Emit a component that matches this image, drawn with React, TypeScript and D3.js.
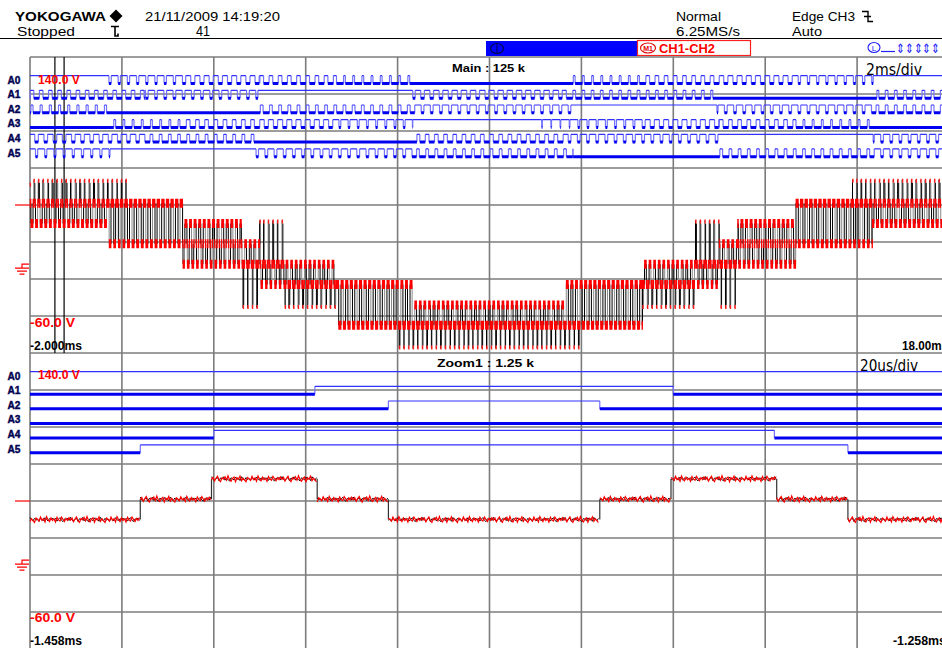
import React, { useMemo } from 'react';
import * as d3 from 'd3';

// ---------------- acquisition settings ----------------
const mainSpanMs: [number, number] = [-2, 18];
const zoomSpanMs: [number, number] = [-1.458, -1.258];
const voltSpan: [number, number] = [-60, 140];
const carrierPeriodMs = 0.2;
const carrierCentreMs = -1.357;
const levelStepVolts = 13.75;
const triggerLevelVolts = 40;

const channelNames = ['A0', 'A1', 'A2', 'A3', 'A4', 'A5'];

// gate signals: [start ms, end ms, duty]  (1 = held high, 0 = held low)
const a0Segments: [number, number, number][] = [
  [-2, -0.3, 1], [-0.3, 1.33, 0.75], [1.33, 3.0, 0.55], [3.0, 4.67, 0.4], [4.67, 6.27, 0.2],
  [6.27, 9.82, 0], [9.82, 11.33, 0.2], [11.33, 13.0, 0.4], [13.0, 14.67, 0.55], [14.67, 16.35, 0.75], [16.35, 18, 1],
];
const a1Segments: [number, number, number][] = [
  [-2, 0.5, 0.39], [0.5, 2.96, 0.7], [2.96, 6.33, 1], [6.33, 9.67, 0.6], [9.67, 12.86, 0.3],
  [12.86, 16.43, 0], [16.43, 18, 0.3],
];
const a2Segments: [number, number, number][] = [
  [-2, -0.32, 0.23], [-0.32, 3.0, 0], [3.0, 6.33, 0.3], [6.33, 9.77, 0.7], [9.77, 12.95, 1],
  [12.95, 16.33, 0.7], [16.33, 18, 0.3],
];
const a3Segments: [number, number, number][] = [
  [-2, -0.19, 0], [-0.19, 1.33, 0.2], [1.33, 3.0, 0.4], [3.0, 4.67, 0.55], [4.67, 6.33, 0.8],
  [6.33, 9.0, 1], [9.0, 9.82, 0.93], [9.82, 11.33, 0.8], [11.33, 13.0, 0.55], [13.0, 14.67, 0.4],
  [14.67, 16.28, 0.2], [16.28, 18, 0],
];
const a4Segments: [number, number, number][] = [
  [-2, 0.5, 0.61], [0.5, 2.9, 0.3], [2.9, 6.42, 0], [6.42, 9.67, 0.4], [9.67, 12.97, 0.7],
  [12.97, 16.35, 1], [16.35, 18, 0.7],
];
const a5Segments: [number, number, number][] = [
  [-2, -0.26, 0.77], [-0.26, 2.92, 1], [2.92, 6.33, 0.7], [6.33, 9.82, 0.3], [9.82, 12.95, 0],
  [12.95, 16.33, 0.3], [16.33, 18, 0.7],
];
const channelSegments = [a0Segments, a1Segments, a2Segments, a3Segments, a4Segments, a5Segments];

// CH1-CH2 line voltage: [start ms, end ms, levels visited (steps), dwell fraction of each level]
const lineVoltageSegments: [number, number, number[], number[]][] = [
  [-2, -0.33, [2, 3, 4], [0.46, 0.31, 0.23]],
  [-0.33, 0.1, [1, 3, 4], [0.4, 0.45, 0.15]],
  [0.1, 1.33, [1, 3], [0.45, 0.55]],
  [1.33, 2.6, [0, 1, 2], [0.4, 0.15, 0.45]],
  [2.6, 3.0, [-2, 0, 1], [0.15, 0.45, 0.4]],
  [3.0, 3.55, [-1, 0, 2], [0.35, 0.45, 0.2]],
  [3.55, 4.67, [-2, -1, 0], [0.2, 0.4, 0.4]],
  [4.67, 6.0, [-3, -1], [0.5, 0.5]],
  [6.0, 6.33, [-4, -3, -1], [0.15, 0.4, 0.45]],
  [6.33, 9.67, [-4, -3, -2], [0.15, 0.45, 0.4]],
  [9.67, 10.0, [-4, -3, -1], [0.15, 0.4, 0.45]],
  [10.0, 11.33, [-3, -1], [0.5, 0.5]],
  [11.33, 12.45, [-2, -1, 0], [0.2, 0.4, 0.4]],
  [12.45, 13.0, [-1, 0, 2], [0.35, 0.45, 0.2]],
  [13.0, 13.4, [-2, 0, 1], [0.15, 0.45, 0.4]],
  [13.4, 14.67, [0, 1, 2], [0.4, 0.15, 0.45]],
  [14.67, 15.9, [1, 3], [0.45, 0.55]],
  [15.9, 16.33, [1, 3, 4], [0.4, 0.45, 0.15]],
  [16.33, 18, [2, 3, 4], [0.46, 0.31, 0.23]],
];

// acquisition noise offsets (px) applied along the zoomed trace
const traceJitter = [
  0.5, -1.2, 1.8, -0.4, -2.1, 0.9, 2.3, -0.8, 0.2, -1.7, 1.1, -2.4, 0.7, 1.9, -0.3, -1.4,
  2.2, -0.9, 0.4, -2.2, 1.5, -0.6, 0.9, 2.4, -1.1, -0.2, 1.3, -1.9, 0.6, -0.7, 2.0, -2.3,
  0.1, 1.6, -1.3, 0.8, -0.5, 2.1, -1.8, 0.3, 1.2, -2.0, -0.1, 1.7, -1.0, 0.6, -1.5,
];

// ---------------- screen geometry ----------------
const W = 942;
const H = 648;
const GRID_X0 = 30;
const DIV_W = 91.9;
const DIV_H = 37;
const MAIN_TOP = 57;
const ZOOM_TOP = 353;
const ROW_OFFSET = 18.7;
const ROW_GAP = 14.65;
const ROW_SWING = 7.8;
const SPIKE_FRACTION = 0.25;
const FONT = 'Liberation Sans, Arial, sans-serif';

type State = [number, number, number];
type Piece = [number, number, number, boolean];

function channelStates(segs: [number, number, number][], t0: number, t1: number): State[] {
  const out: State[] = [];
  const push = (a: number, b: number, s: number) => {
    a = Math.max(a, t0);
    b = Math.min(b, t1);
    if (b - a <= 1e-9) return;
    const last = out[out.length - 1];
    if (last && last[2] === s && Math.abs(last[1] - a) < 1e-7) last[1] = b;
    else out.push([a, b, s]);
  };
  for (const [s0, s1, d] of segs) {
    if (d >= 1 || d <= 0) {
      push(s0, s1, d >= 1 ? 1 : 0);
      continue;
    }
    const half = (d * carrierPeriodMs) / 2;
    const kStart = Math.floor((s0 - carrierCentreMs) / carrierPeriodMs) - 1;
    const kEnd = Math.ceil((s1 - carrierCentreMs) / carrierPeriodMs) + 1;
    let cursor = s0;
    for (let k = kStart; k <= kEnd; k++) {
      const c = carrierCentreMs + k * carrierPeriodMs;
      const a = Math.max(s0, c - half);
      const b = Math.min(s1, c + half);
      if (b <= a) continue;
      if (a > cursor) push(cursor, a, 0);
      push(a, b, 1);
      cursor = b;
    }
    if (cursor < s1) push(cursor, s1, 0);
  }
  return out;
}

// Expands the line-voltage table into flat pieces; each carrier half-period climbs
// from the lowest listed level to the highest and back. Brief extreme levels are flagged as spikes.
function linePieces(segs: [number, number, number[], number[]][], t0: number, t1: number): Piece[] {
  const out: Piece[] = [];
  const hump = carrierPeriodMs / 2;
  const push = (a: number, b: number, n: number, spike: boolean) => {
    if (b - a <= 1e-9) return;
    const last = out[out.length - 1];
    if (last && last[2] === n && Math.abs(last[1] - a) < 1e-7) last[1] = b;
    else out.push([a, b, n, spike]);
  };
  for (const [s0, s1, levels, fracs] of segs) {
    const lo = Math.max(s0, t0);
    const hi = Math.min(s1, t1);
    if (hi <= lo) continue;
    const kStart = Math.floor((lo - carrierCentreMs) / hump) - 1;
    const kEnd = Math.ceil((hi - carrierCentreMs) / hump) + 1;
    const last = levels.length - 1;
    const isSpike = (i: number) => levels.length >= 3 && (i === 0 || i === last) && fracs[i] <= SPIKE_FRACTION;
    for (let k = kStart; k <= kEnd; k++) {
      let t = carrierCentreMs + k * hump;
      const seq: Piece[] = [];
      for (let i = 0; i < last; i++) {
        const dt = (fracs[i] * hump) / 2;
        seq.push([t, t + dt, levels[i], isSpike(i)]);
        t += dt;
      }
      seq.push([t, t + fracs[last] * hump, levels[last], isSpike(last)]);
      t += fracs[last] * hump;
      for (let i = last - 1; i >= 0; i--) {
        const dt = (fracs[i] * hump) / 2;
        seq.push([t, t + dt, levels[i], isSpike(i)]);
        t += dt;
      }
      for (const [a, b, n, sp] of seq) push(Math.max(a, lo), Math.min(b, hi), n, sp);
    }
  }
  return out;
}

function DigitalRows({ x, top, span }: { x: d3.ScaleLinear<number, number>; top: number; span: [number, number] }) {
  return (
    <g>
      {channelSegments.map((segs, i) => {
        const states = channelStates(segs, span[0], span[1]);
        const yHi = top + ROW_OFFSET + i * ROW_GAP;
        const yLo = yHi + ROW_SWING;
        let hiP = '';
        let loP = '';
        let edgeP = '';
        states.forEach(([a, b, s], j) => {
          const xa = x(a);
          const xb = x(b);
          if (s) hiP += `M${xa.toFixed(2)},${yHi}H${xb.toFixed(2)}`;
          else loP += `M${xa.toFixed(2)},${yLo}H${xb.toFixed(2)}`;
          if (j > 0) edgeP += `M${xa.toFixed(2)},${yHi}V${yLo}`;
        });
        return (
          <g key={i}>
            <path d={edgeP} stroke="#7373ff" strokeWidth={1.2} fill="none" />
            <path d={hiP} stroke="#3030ff" strokeWidth={1.2} fill="none" />
            <path d={loP} stroke="#0000f0" strokeWidth={3} fill="none" />
            <text x={7.5} y={yHi + 7.8} fontSize={10} fontWeight="bold" fill="#000050" fontFamily={FONT}
              textLength={13} lengthAdjust="spacingAndGlyphs" stroke="#000050" strokeWidth={0.4}>{channelNames[i]}</text>
          </g>
        );
      })}
    </g>
  );
}

function GroundMark({ y }: { y: number }) {
  return (
    <path d={`M29,${y}H22V${y + 4}M15,${y + 4}H29M17,${y + 7}H27M19.5,${y + 10}H24.5`}
      stroke="#ff0000" strokeWidth={1.2} fill="none" />
  );
}

export default function App() {
  const xMain = d3.scaleLinear().domain(mainSpanMs).range([GRID_X0, GRID_X0 + 10 * DIV_W]);
  const xZoom = d3.scaleLinear().domain(zoomSpanMs).range([GRID_X0, GRID_X0 + 10 * DIV_W]);
  const yMain = d3.scaleLinear().domain(voltSpan).range([MAIN_TOP + 8 * DIV_H, MAIN_TOP]);
  const yZoom = d3.scaleLinear().domain(voltSpan).range([ZOOM_TOP + 8 * DIV_H, ZOOM_TOP]);

  const mainTrace = useMemo(() => {
    const pieces = linePieces(lineVoltageSegments, mainSpanMs[0], mainSpanMs[1]);
    let red = '';
    let tips = '';
    let black = '';
    let gray = '';
    pieces.forEach(([a, b, n, spike], i) => {
      const xa = xMain(a);
      const xb = xMain(b);
      const y = yMain(n * levelStepVolts);
      if (spike) {
        const up = i > 0 && pieces[i - 1][2] < n;
        const ty = up ? y - 4 : y;
        tips += `M${(xa - 0.3).toFixed(2)},${ty.toFixed(2)}h1.4v4h-1.4Z`;
      } else {
        const w = Math.max(xb - xa, 0.6) + 0.8;
        red += `M${(xa - 0.4).toFixed(2)},${(y - 4.5).toFixed(2)}h${w.toFixed(2)}v9h${(-w).toFixed(2)}Z`;
      }
      if (i > 0) {
        const yp = yMain(pieces[i - 1][2] * levelStepVolts);
        const over = spike ? (pieces[i - 1][2] < n ? -3 : 3) : 0;
        const seg = `M${xa.toFixed(2)},${yp.toFixed(2)}V${(y + over).toFixed(2)}`;
        if (i % 3 === 1) gray += seg;
        else black += seg;
      }
    });
    return { red, tips, black, gray };
  }, []);

  const zoomTrace = useMemo(() => {
    const pieces = linePieces(lineVoltageSegments, zoomSpanMs[0], zoomSpanMs[1]);
    let red = '';
    let dark = '';
    let edges = '';
    const J = traceJitter.length;
    pieces.forEach(([a, b, n], i) => {
      const xa = xZoom(a);
      const xb = xZoom(b);
      const y = yZoom(n * levelStepVolts);
      let r = '';
      let d = '';
      for (let px = xa; px <= xb + 0.01; px += 1.5) {
        const idx = Math.round(px / 1.5);
        const jr = traceJitter[idx % J] * 1.25;
        const jd = traceJitter[(idx + 11) % J] * 0.9;
        r += `${r ? 'L' : 'M'}${px.toFixed(1)},${(y + jr).toFixed(1)}`;
        d += `${d ? 'L' : 'M'}${px.toFixed(1)},${(y + jd).toFixed(1)}`;
      }
      red += r;
      dark += d;
      if (i > 0) {
        const yp = yZoom(pieces[i - 1][2] * levelStepVolts);
        edges += `M${xa.toFixed(2)},${yp.toFixed(2)}V${y.toFixed(2)}`;
      }
    });
    return { red, dark, edges };
  }, []);

  const gridXs = d3.range(0, 10).map((k) => GRID_X0 + k * DIV_W);
  const gridYs = d3.range(0, 17).map((k) => MAIN_TOP + k * DIV_H);

  return (
    <svg width={W} height={H} viewBox={`0 0 ${W} ${H}`}
      style={{ position: 'absolute', left: 0, top: 0, background: '#ffffff', overflow: 'hidden' }}
      fontFamily={FONT}>
      <rect x={0} y={0} width={W} height={H} fill="#ffffff" />

      {/* header */}
      <text x={15} y={21} fontSize={13.5} fontWeight="bold" textLength={91} lengthAdjust="spacingAndGlyphs">YOKOGAWA</text>
      <path d="M116,9.5 L122.5,16 L116,22.5 L109.5,16 Z" fill="#000" />
      <text x={145} y={21} fontSize={13.5} textLength={135} lengthAdjust="spacingAndGlyphs">21/11/2009 14:19:20</text>
      <text x={17} y={35.5} fontSize={13.5} textLength={58} lengthAdjust="spacingAndGlyphs">Stopped</text>
      <path d="M111,26.5H119M115,26.5V36H118V33.5" stroke="#000" strokeWidth={1.6} fill="none" />
      <text x={196} y={35.5} fontSize={14} textLength={14} lengthAdjust="spacingAndGlyphs">41</text>
      <text x={676} y={21} fontSize={13.5} textLength={45} lengthAdjust="spacingAndGlyphs">Normal</text>
      <text x={676} y={35.5} fontSize={13.5} textLength={64} lengthAdjust="spacingAndGlyphs">6.25MS/s</text>
      <text x={792} y={21} fontSize={13.5} textLength={63} lengthAdjust="spacingAndGlyphs">Edge CH3</text>
      <path d="M862,11.5H868V21.5H873M864,16.5H871" stroke="#000" strokeWidth={1.4} fill="none" />
      <text x={792} y={35.5} fontSize={13.5} textLength={30} lengthAdjust="spacingAndGlyphs">Auto</text>
      <line x1={0} x2={W} y1={38.5} y2={38.5} stroke="#000" strokeWidth={1} />

      {/* display bar */}
      <rect x={486} y={41} width={151} height={15} fill="#0000ff" />
      <ellipse cx={497} cy={48.5} rx={6.5} ry={5} fill="none" stroke="#000050" strokeWidth={1.2} />
      <line x1={497} x2={497} y1={44} y2={53} stroke="#000050" strokeWidth={1} />
      <rect x={637.5} y={40.5} width={113} height={15} fill="#ffffff" stroke="#ff2020" strokeWidth={1.2} />
      <ellipse cx={648} cy={48} rx={7.5} ry={5} fill="none" stroke="#e00000" strokeWidth={1.1} />
      <text x={648} y={50.5} fontSize={7} fontWeight="bold" fill="#e00000" textAnchor="middle">M1</text>
      <text x={659} y={53} fontSize={13} fontWeight="bold" fill="#ff0000" textLength={56} lengthAdjust="spacingAndGlyphs">CH1-CH2</text>
      <ellipse cx={874} cy={47.5} rx={6} ry={5} fill="none" stroke="#2020ff" strokeWidth={1.1} />
      <text x={874} y={50.5} fontSize={8} fill="#2020ff" textAnchor="middle">L</text>
      <line x1={881} x2={895} y1={51.5} y2={51.5} stroke="#2020ff" strokeWidth={1.2} />
      <text x={896} y={53} fontSize={13} fill="#2020ff" textLength={44} lengthAdjust="spacingAndGlyphs">⇕⇕⇕⇕⇕</text>

      {/* graticule */}
      <g stroke="#7c7c7c" strokeWidth={1.6}>
        {gridXs.map((x, i) => (
          <line key={`v${i}`} x1={x} x2={x} y1={MAIN_TOP} y2={H} />
        ))}
        {gridYs.map((y, i) => (
          <line key={`h${i}`} x1={GRID_X0} x2={W} y1={y} y2={y} />
        ))}
      </g>

      {/* zoom window markers */}
      {zoomSpanMs.map((t, i) => (
        <line key={`zm${i}`} x1={xMain(t)} x2={xMain(t)} y1={MAIN_TOP} y2={MAIN_TOP + 8 * DIV_H} stroke="#000" strokeWidth={1.2} />
      ))}

      {/* main window */}
      <DigitalRows x={xMain} top={MAIN_TOP} span={mainSpanMs} />
      <path d={mainTrace.gray} stroke="#8a8a8a" strokeWidth={1} fill="none" />
      <path d={mainTrace.black} stroke="#000" strokeWidth={1} fill="none" />
      <path d={mainTrace.red} fill="#ff0000" />
      <path d={mainTrace.tips} fill="#ff1a1a" />

      <line x1={15} x2={GRID_X0} y1={yMain(triggerLevelVolts)} y2={yMain(triggerLevelVolts)} stroke="#ff0000" strokeWidth={1.2} />
      <GroundMark y={yMain(0)} />
      <text x={452} y={72} fontSize={11} fontWeight="bold" textLength={73} lengthAdjust="spacingAndGlyphs">Main : 125 k</text>
      <text x={866} y={75} fontSize={16} fontFamily="DejaVu Sans, sans-serif" textLength={56} lengthAdjust="spacingAndGlyphs">2ms/div</text>
      <text x={38} y={84} fontSize={12.5} fontWeight="bold" fill="#ff0000" textLength={42} lengthAdjust="spacingAndGlyphs">140.0 V</text>
      <text x={30} y={327} fontSize={12.5} fontWeight="bold" fill="#ff0000" textLength={45} lengthAdjust="spacingAndGlyphs">-60.0 V</text>
      <text x={30} y={350} fontSize={12} fontWeight="bold" textLength={52} lengthAdjust="spacingAndGlyphs">-2.000ms</text>
      <text x={902} y={350} fontSize={12} fontWeight="bold" textLength={46} lengthAdjust="spacingAndGlyphs">18.00ms</text>

      {/* zoom window */}
      <DigitalRows x={xZoom} top={ZOOM_TOP} span={zoomSpanMs} />
      <path d={zoomTrace.edges} stroke="#333" strokeWidth={1.2} fill="none" />
      <path d={zoomTrace.dark} stroke="#000" strokeWidth={0.9} fill="none" />
      <path d={zoomTrace.red} stroke="#ff0000" strokeWidth={1.2} fill="none" />

      <line x1={15} x2={GRID_X0} y1={yZoom(triggerLevelVolts)} y2={yZoom(triggerLevelVolts)} stroke="#ff0000" strokeWidth={1.2} />
      <GroundMark y={yZoom(0)} />
      <text x={437} y={367} fontSize={11} fontWeight="bold" textLength={97} lengthAdjust="spacingAndGlyphs">Zoom1 : 1.25 k</text>
      <text x={860} y={371} fontSize={16} fontFamily="DejaVu Sans, sans-serif" textLength={58} lengthAdjust="spacingAndGlyphs">20us/div</text>
      <text x={38} y={379} fontSize={12.5} fontWeight="bold" fill="#ff0000" textLength={42} lengthAdjust="spacingAndGlyphs">140.0 V</text>
      <text x={30} y={622} fontSize={12.5} fontWeight="bold" fill="#ff0000" textLength={45} lengthAdjust="spacingAndGlyphs">-60.0 V</text>
      <text x={30} y={645} fontSize={12} fontWeight="bold" textLength={52} lengthAdjust="spacingAndGlyphs">-1.458ms</text>
      <text x={893} y={645} fontSize={12} fontWeight="bold" textLength={53} lengthAdjust="spacingAndGlyphs">-1.258ms</text>
    </svg>
  );
}
